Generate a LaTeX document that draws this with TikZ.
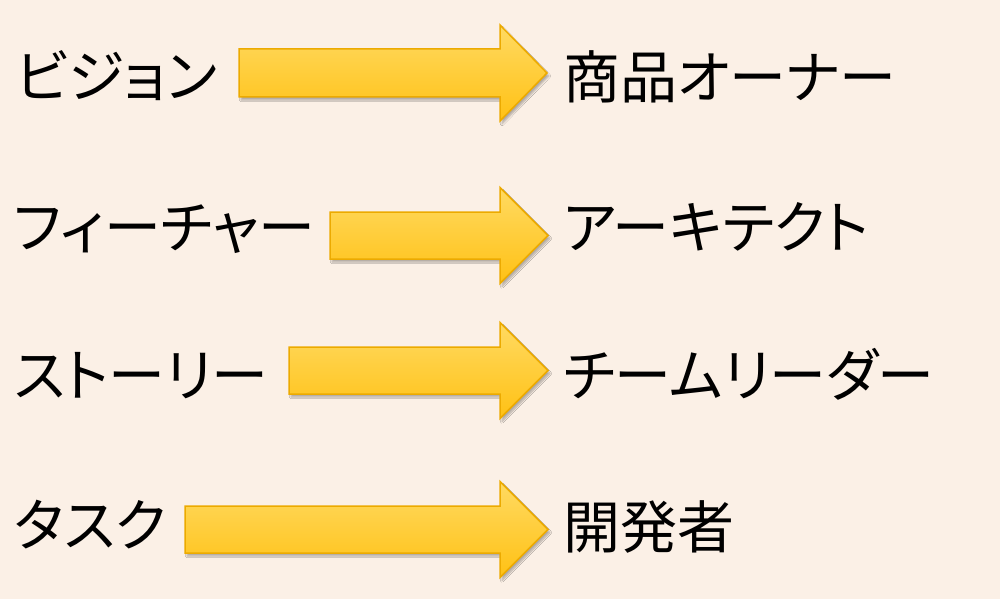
\documentclass[tikz,border=0pt]{standalone}
\usepackage{fontspec}
\newfontfamily\jp[RawFeature=+palt]{Noto Sans CJK JP}
\usetikzlibrary{shadows.blur}
\definecolor{bg}{RGB}{251,240,230}
\definecolor{arrtop}{RGB}{255,218,98}
\definecolor{arrbot}{RGB}{255,193,20}
\definecolor{arredge}{RGB}{236,170,0}
\tikzset{
  lbl/.style={anchor=base west, inner sep=0pt, font=\jp\fontsize{57}{57}\selectfont, text=black},
  blockarrow/.style={draw=arredge, line width=1.5pt, line join=miter, top color=arrtop, bottom color=arrbot,
    blur shadow={shadow xshift=2pt, shadow yshift=-3pt, shadow blur steps=6, shadow opacity=30}},
}
\newcommand{\blockarr}[6]{% x0, headx, tipx, shaft top, shaft bottom, head half height
  \pgfmathsetmacro{\cy}{(#4+#5)/2}
  \path[blockarrow] (#1,#4) -- (#2,#4) -- (#2,\cy-#6) -- (#3,\cy) -- (#2,\cy+#6) -- (#2,#5) -- (#1,#5) -- cycle;
}
\begin{document}
\begin{tikzpicture}[x=1pt,y=-1pt]
\fill[bg] (0,0) rectangle (1000,599);
\useasboundingbox (0,0) rectangle (1000,599);
% arrows
\blockarr{239}{500}{547}{49}{97}{48}
\blockarr{330}{500}{548}{212}{259}{48}
\blockarr{289}{500}{548}{347}{394}{48}
\blockarr{185}{500}{548}{506}{553}{48}
% left labels
\node[lbl] (vision) at (16,98) {ビジョン};
\node[lbl] (feature) at (14,248) {フィーチャー};
\node[lbl] (story) at (14,396) {ストーリー};
\node[lbl] (task) at (14,546) {タスク};
% right labels
\node[lbl] (po) at (563,99) {商品オーナー};
\node[lbl] (arch) at (563,248) {アーキテクト};
\node[lbl] (lead) at (563,396) {チームリーダー};
\node[lbl] (dev) at (563,548) {開発者};
\end{tikzpicture}
\end{document}
